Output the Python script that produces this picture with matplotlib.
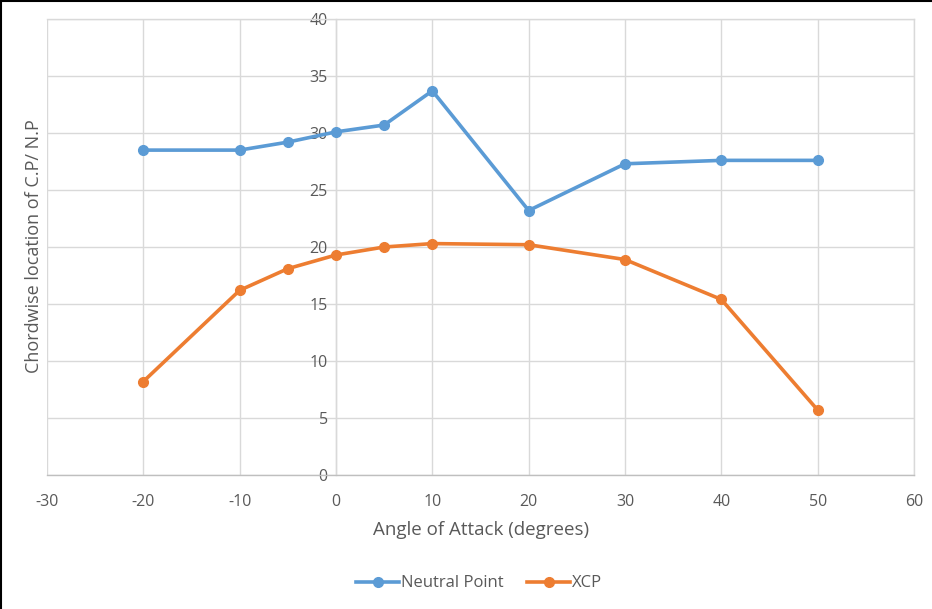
import matplotlib
matplotlib.use("Agg")
import matplotlib.pyplot as plt
from matplotlib.lines import Line2D

plt.rcParams['font.family'] = ['Open Sans', 'DejaVu Sans']
plt.rcParams['axes.unicode_minus'] = False

# angle of attack (deg) and chordwise locations
angles = [-20, -10, -5, 0, 5, 10, 20, 30, 40, 50]
neutral_point = [28.5, 28.5, 29.2, 30.1, 30.7, 33.7, 23.2, 27.3, 27.6, 27.6]
xcp = [8.2, 16.2, 18.1, 19.3, 20.0, 20.3, 20.2, 18.9, 15.4, 5.7]

x_ticks = list(range(-30, 61, 10))
y_ticks = list(range(0, 41, 5))

text_col = '#595959'
grid_col = '#d9d9d9'

fig = plt.figure(figsize=(9.32, 6.09), dpi=100)
ax = fig.add_axes([0.0504, 0.22, 0.9303, 0.7488])

ax.plot(angles, neutral_point, color='#5B9BD5', lw=2.6, marker='o', ms=7,
        label='Neutral Point', zorder=3)
ax.plot(angles, xcp, color='#ED7D31', lw=2.6, marker='o', ms=7,
        label='XCP', zorder=3)

ax.set_xlim(-30, 60)
ax.set_ylim(0, 40)
ax.set_xticks(x_ticks)
ax.set_yticks(y_ticks)
ax.grid(True, color=grid_col, lw=1)
ax.set_axisbelow(True)

# y axis crosses at x = 0
ax.spines['left'].set_position(('data', 0))
ax.spines['left'].set_color(grid_col)
ax.spines['bottom'].set_color('#bfbfbf')
ax.spines['top'].set_color(grid_col)
ax.spines['right'].set_color(grid_col)
for s in ax.spines.values():
    s.set_linewidth(1)

ax.tick_params(length=0, labelsize=11.5, colors=text_col)
ax.tick_params(axis='x', pad=14)
ax.tick_params(axis='y', pad=6)

fig.text(0.036, 0.596, 'Chordwise location of C.P/ N.P', rotation=90,
         ha='center', va='center', fontsize=13, color=text_col)
fig.text(0.516, 0.13, 'Angle of Attack (degrees)', ha='center', va='center',
         fontsize=13.5, color=text_col)

ax.legend(loc='center', bbox_to_anchor=(0.514, 0.042), bbox_transform=fig.transFigure,
          ncol=2, frameon=False, fontsize=12, labelcolor=text_col,
          handlelength=2.6, handletextpad=0.1, columnspacing=1.4)

# outer frame edges
fig.add_artist(Line2D([0.001, 0.001], [0, 1], color='black', lw=1.5,
                      transform=fig.transFigure))
fig.add_artist(Line2D([0, 1], [0.998, 0.998], color='black', lw=1.5,
                      transform=fig.transFigure))

fig.savefig('out.png', dpi=100)
